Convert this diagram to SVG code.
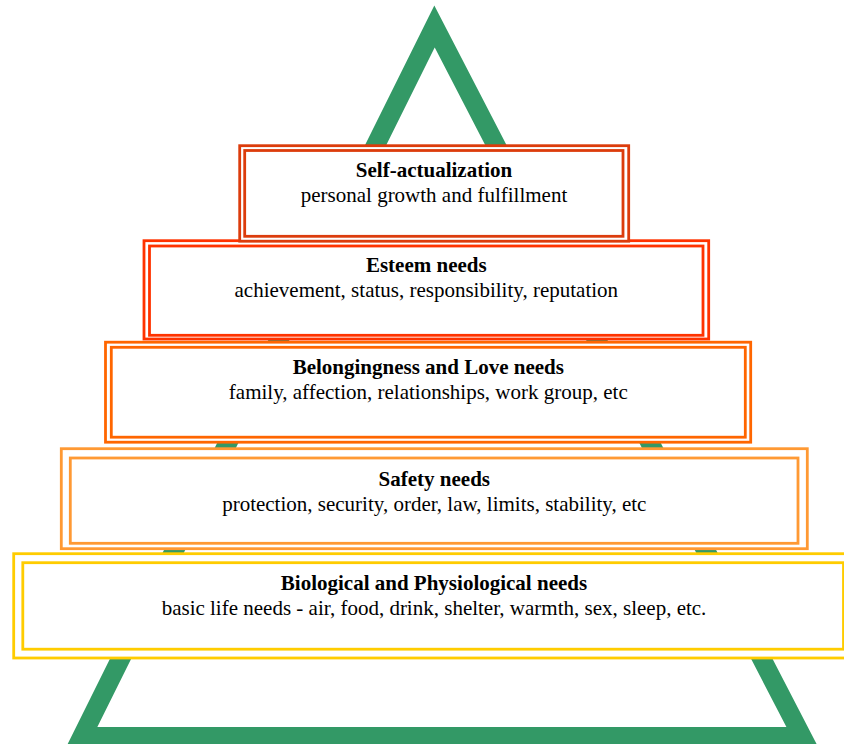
<svg xmlns="http://www.w3.org/2000/svg" width="844" height="744" viewBox="0 0 844 744">
<style>
.tri{fill:none;stroke:#339966;stroke-width:19;stroke-linejoin:miter}
.o{fill:#fff;stroke-width:2.8}
.i{fill:#fff;stroke-width:2.8}
.t{font-family:"Liberation Serif","Times New Roman",serif;font-size:21px;font-weight:bold;fill:#000;text-anchor:middle}
.s{font-family:"Liberation Serif","Times New Roman",serif;font-size:21px;fill:#000;text-anchor:middle}
</style>
<rect x="0" y="0" width="844" height="744" fill="#fff"/>
<g id="pyramid">
<polygon class="tri" points="434.5,26.5 82,736.5 802,736.5"/>
</g>
<g id="biological">
<rect class="o" x="13.7" y="553.7" width="839" height="104.3" stroke="#ffcc00" stroke-width="4"/>
<rect class="i" x="22.8" y="562.7" width="820.7" height="86.5" stroke="#ffcc00" stroke-width="4"/>
<text class="t" x="434" y="590">Biological and Physiological needs</text>
<text class="s" x="434" y="614.5">basic life needs - air, food, drink, shelter, warmth, sex, sleep, etc.</text>
</g>
<g id="safety">
<rect class="o" x="61.3" y="448.7" width="746" height="100" stroke="#ff9933" stroke-width="3.6"/>
<rect class="i" x="70.3" y="458" width="727.7" height="85.3" stroke="#ff9933" stroke-width="4"/>
<text class="t" x="434.3" y="485.7">Safety needs</text>
<text class="s" x="434.3" y="510.5">protection, security, order, law, limits, stability, etc</text>
</g>
<g id="belongingness">
<rect class="o" x="105.5" y="342.2" width="645.2" height="100" stroke="#ff6600"/>
<rect class="i" x="111.3" y="347.3" width="634" height="89.9" stroke="#ff6600"/>
<text class="t" x="428.3" y="374">Belongingness and Love needs</text>
<text class="s" x="428.3" y="398.5">family, affection, relationships, work group, etc</text>
</g>
<g id="esteem">
<rect class="o" x="144" y="240.7" width="564.7" height="98.3" stroke="#ff3300"/>
<rect class="i" x="149.5" y="246" width="553.5" height="89.3" stroke="#ff3300"/>
<text class="t" x="426.3" y="272.3">Esteem needs</text>
<text class="s" x="426.3" y="296.7">achievement, status, responsibility, reputation</text>
</g>
<g id="self-actualization">
<rect class="o" x="239.7" y="145.7" width="389" height="95.5" stroke="#dc3c0c"/>
<rect class="i" x="244.7" y="150.5" width="378.3" height="85.8" stroke="#dc3c0c"/>
<text class="t" x="434" y="177.3">Self-actualization</text>
<text class="s" x="434" y="201.7">personal growth and fulfillment</text>
</g>
</svg>
